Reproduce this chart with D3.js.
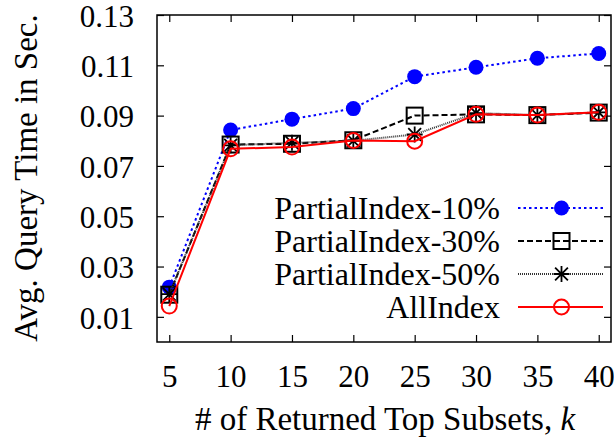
<!DOCTYPE html>
<html>
<head>
<meta charset="utf-8">
<script src="https://cdn.jsdelivr.net/npm/d3@7"></script>
<style>
  html, body { margin: 0; padding: 0; background: #fff; }
  svg { display: block; font-family: "Liberation Serif", "Times New Roman", serif; }
</style>
</head>
<body>
<svg id="chart" width="614" height="443"></svg>
<script>
// Number of returned top subsets (k)
const kValues = [5, 10, 15, 20, 25, 30, 35, 40];

// Average query time in seconds for each index configuration
const partial10 = [0.0218, 0.0843, 0.0886, 0.0928, 0.1055, 0.1092, 0.1128, 0.1147];
const partial30 = [0.0188, 0.0785, 0.0788, 0.0802, 0.0900, 0.0905, 0.0902, 0.0912];
const partial50 = [0.0190, 0.0782, 0.0792, 0.0800, 0.0825, 0.0910, 0.0902, 0.0913];
const allIndex  = [0.0143, 0.0768, 0.0775, 0.0801, 0.0798, 0.0905, 0.0902, 0.0913];

const seriesNames = ["PartialIndex-10%", "PartialIndex-30%", "PartialIndex-50%", "AllIndex"];

const yTicks = [0.01, 0.03, 0.05, 0.07, 0.09, 0.11, 0.13];
const xTicks = [5, 10, 15, 20, 25, 30, 35, 40];

const svg = d3.select("#chart");
const plotLeft = 157, plotRight = 611, plotTop = 15, plotBottom = 342;

const x = d3.scaleLinear().domain([4, 41]).range([plotLeft, plotRight]);
const y = d3.scaleLinear().domain([0, 0.13]).range([plotBottom, plotTop]);

const styles = [
  { color: "#0000ff", dash: "2.5,3", width: 2, marker: "dot" },
  { color: "#000000", dash: "6,3", width: 2, marker: "square" },
  { color: "#333333", dash: "1,1", width: 2, marker: "star" },
  { color: "#ff0000", dash: null, width: 2, marker: "circle" }
];
const seriesData = [partial10, partial30, partial50, allIndex];

// Axes with inward ticks on all four sides
const tickLen = 7;
const gx = svg.append("g").attr("transform", `translate(0,${plotBottom})`)
  .call(d3.axisBottom(x).tickValues(xTicks).tickSize(-tickLen).tickPadding(tickLen + 16));
const gxTop = svg.append("g").attr("transform", `translate(0,${plotTop})`)
  .call(d3.axisTop(x).tickValues(xTicks).tickSize(-tickLen).tickFormat(""));
const gy = svg.append("g").attr("transform", `translate(${plotLeft},0)`)
  .call(d3.axisLeft(y).tickValues(yTicks).tickSize(-tickLen).tickPadding(tickLen + 16).tickFormat(d3.format(".2f")));
const gyRight = svg.append("g").attr("transform", `translate(${plotRight},0)`)
  .call(d3.axisRight(y).tickValues(yTicks).tickSize(-tickLen).tickFormat(""));

[gx, gxTop, gy, gyRight].forEach(g => {
  g.select(".domain").remove();
  g.selectAll(".tick line").attr("stroke", "#000").attr("stroke-width", 1.2);
  g.selectAll(".tick text").attr("fill", "#000").attr("font-size", 31)
    .attr("font-family", "Liberation Serif, serif");
});
gx.selectAll(".tick text").attr("dy", "0.71em");
gy.selectAll(".tick text").attr("dy", "0.36em");

// Plot frame
svg.append("rect")
  .attr("x", plotLeft).attr("y", plotTop)
  .attr("width", plotRight - plotLeft).attr("height", plotBottom - plotTop)
  .attr("fill", "none").attr("stroke", "#000").attr("stroke-width", 1.5);

function drawMarker(g, type, cx, cy, color) {
  if (type === "dot") {
    g.append("circle").attr("cx", cx).attr("cy", cy).attr("r", 7.5).attr("fill", color);
  } else if (type === "square") {
    g.append("rect").attr("x", cx - 8).attr("y", cy - 8).attr("width", 16).attr("height", 16)
      .attr("fill", "none").attr("stroke", color).attr("stroke-width", 2);
  } else if (type === "star") {
    const s = 8;
    const p = `M${cx - s},${cy}L${cx + s},${cy}M${cx},${cy - s}L${cx},${cy + s}` +
      `M${cx - s * 0.8},${cy - s * 0.8}L${cx + s * 0.8},${cy + s * 0.8}` +
      `M${cx - s * 0.8},${cy + s * 0.8}L${cx + s * 0.8},${cy - s * 0.8}`;
    g.append("path").attr("d", p).attr("stroke", "#000").attr("stroke-width", 1.8).attr("fill", "none");
  } else {
    g.append("circle").attr("cx", cx).attr("cy", cy).attr("r", 7.5)
      .attr("fill", "none").attr("stroke", color).attr("stroke-width", 2);
  }
}

const line = d3.line().x((d, i) => x(kValues[i])).y(d => y(d));

seriesData.forEach((vals, si) => {
  const st = styles[si];
  const g = svg.append("g");
  g.append("path").datum(vals).attr("d", line)
    .attr("fill", "none").attr("stroke", st.color).attr("stroke-width", st.width)
    .attr("stroke-dasharray", st.dash);
  vals.forEach((v, i) => drawMarker(g, st.marker, x(kValues[i]), y(v), st.color));
});

// Legend
const legendTextX = 500, lineX0 = 518, lineX1 = 603, legendY0 = 208, legendStep = 33;
seriesNames.forEach((name, si) => {
  const st = styles[si];
  const yy = legendY0 + si * legendStep;
  const g = svg.append("g");
  g.append("text").attr("x", legendTextX).attr("y", yy).attr("dy", "0.35em")
    .attr("text-anchor", "end").attr("font-size", 32).attr("fill", "#000").text(name);
  g.append("line").attr("x1", lineX0).attr("x2", lineX1).attr("y1", yy).attr("y2", yy)
    .attr("stroke", st.color).attr("stroke-width", st.width).attr("stroke-dasharray", st.dash);
  drawMarker(g, st.marker, (lineX0 + lineX1) / 2 + 1, yy, st.color);
});

// Axis titles
const xt = svg.append("text").attr("x", (plotLeft + plotRight) / 2 + 1).attr("y", 430)
  .attr("text-anchor", "middle").attr("font-size", 33).attr("fill", "#000");
xt.append("tspan").text("# of Returned Top Subsets, ");
xt.append("tspan").attr("font-style", "italic").text("k");

svg.append("text")
  .attr("transform", "translate(37,178) rotate(-90)")
  .attr("text-anchor", "middle").attr("font-size", 33).attr("fill", "#000")
  .text("Avg. Query Time in Sec.");
</script>
</body>
</html>
